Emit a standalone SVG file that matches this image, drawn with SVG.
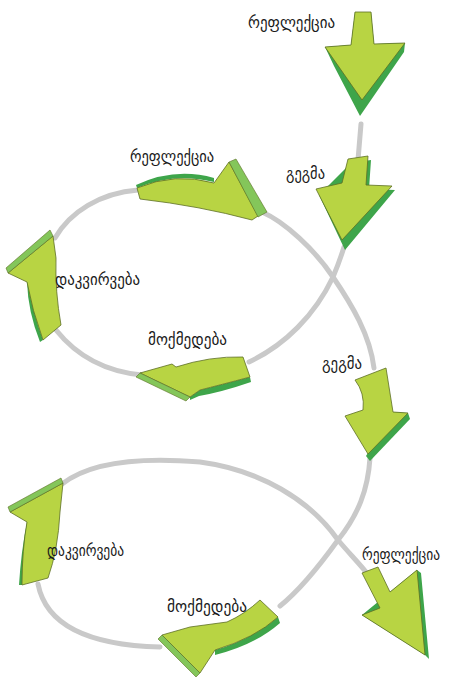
<svg xmlns="http://www.w3.org/2000/svg" width="452" height="679" viewBox="0 0 452 679">
<style>
.line{fill:none;stroke:#c9c9c9;stroke-width:5;stroke-linecap:round}
.face{fill:#b8d443;stroke:#5d6e25;stroke-width:0.8;stroke-linejoin:round}
.dark{fill:#3ea54a}
.mid{fill:#84c65a}
.lbl{font-family:"DejaVu Sans","Noto Sans Georgian",sans-serif;font-size:16px;fill:#1a1a1a}
</style>
<rect width="452" height="679" fill="#ffffff"/>
<g id="connectors">
<path class="line" d="M361,124 L358,160"/>
<path class="line" d="M344,247 C340,260 336,270 333,277 C315,315 285,345 249,362"/>
<path class="line" d="M142,375 C110,372 80,360 56,330"/>
<path class="line" d="M55,238 C70,212 100,193 138,190"/>
<path class="line" d="M262,212 C285,222 315,250 333,277 C352,305 370,335 374,368"/>
<path class="line" d="M370,458 C368,490 358,515 338,540 C320,565 300,590 280,606"/>
<path class="line" d="M38,584 C45,620 80,645 160,647"/>
<path class="line" d="M62,484 C90,462 140,457 200,462 C260,470 310,500 338,540 C348,552 358,562 366,572"/>
</g>
<g id="node-reflection-top">
<path class="dark" d="M325,47 L351,45 L355,12 L371,12 L374,44 L405,43 L404,52 L360,116 L334,66 Z"/>
<path class="face" d="M355,12 L371,12 L374,44 L405,43 L362,100 L325,47 L351,45 Z"/>
<text class="lbl" x="248" y="28" textLength="87" lengthAdjust="spacingAndGlyphs">რეფლექცია</text>
</g>
<g id="node-plan-1">
<path class="dark" d="M351,163 L371,160 L369,189 L395,190 L345,250 L319,195 Z"/>
<path class="face" d="M348,159 L368,156 L366,185 L392,186 L342,240 L316,189 L342,183 Z"/>
<text class="lbl" x="286" y="179" textLength="39" lengthAdjust="spacingAndGlyphs">გეგმა</text>
</g>
<g id="node-reflection-loop1">
<path class="dark" d="M136,185 Q175,167 214,178 L214,182 Q175,172 137,188 Z"/>
<path class="face" d="M137,188 Q175,172 214,183 L229,162 L258,216 L252,220 Q200,206 140,199 Z"/>
<path class="mid" stroke="#5d6e25" stroke-width="0.6" d="M229,162 L236,159 L267,212 L258,217 Z"/>
<text class="lbl" x="130" y="162" textLength="84" lengthAdjust="spacingAndGlyphs">რეფლექცია</text>
</g>
<g id="node-observe-loop1">
<path class="dark" d="M27,282 Q28,312 40,342 L43,340 Q32,310 31,282 Z"/>
<path class="face" d="M53,236 L56,258 Q55,292 61,325 L43,340 Q32,310 27,282 L8,273 Z"/>
<path class="mid" stroke="#5d6e25" stroke-width="0.6" d="M6,268 L50,230 L53,236 L8,273 Z"/>
<text class="lbl" x="55" y="285" textLength="85" lengthAdjust="spacingAndGlyphs">დაკვირვება</text>
</g>
<g id="node-action-loop1">
<path class="dark" d="M250,377 L251,382 Q222,392 199,396 L190,400 L190,397 L200,390 Q220,385 250,377 Z"/>
<path class="face" d="M140,373 L172,364 L176,367 Q210,356 243,357 L250,377 Q220,385 200,390 L190,397 Z"/>
<path class="mid" stroke="#5d6e25" stroke-width="0.6" d="M140,373 L190,397 L186,401 L136,377 Z"/>
<text class="lbl" x="148" y="345" textLength="79" lengthAdjust="spacingAndGlyphs">მოქმედება</text>
</g>
<g id="node-plan-2">
<path class="dark" d="M393,412 L408,413 L410,419 L370,461 L366,456 Z"/>
<path class="face" d="M355,380 L386,368 L393,412 L408,413 L368,454 L345,416 L363,410 Q365,393 355,380 Z"/>
<text class="lbl" x="322" y="369" textLength="40" lengthAdjust="spacingAndGlyphs">გეგმა</text>
</g>
<g id="node-observe-loop2">
<path class="dark" d="M27,522 Q21,552 19,585 L22,585 Q24,552 31,524 Z"/>
<path class="face" d="M63,483 L60,512 Q58,550 48,578 L22,585 Q22,550 27,522 L10,512 Z"/>
<path class="mid" stroke="#5d6e25" stroke-width="0.6" d="M8,507 L61,478 L63,483 L10,512 Z"/>
<text class="lbl" x="47" y="556" textLength="77" lengthAdjust="spacingAndGlyphs">დაკვირვება</text>
</g>
<g id="node-action-loop2">
<path class="dark" d="M278,617 L280,623 Q255,645 215,655 L215,650 Q250,640 278,617 Z"/>
<path class="face" d="M162,635 L190,627 L227,622 Q245,614 260,600 L278,617 Q255,638 215,650 L200,673 Z"/>
<path class="mid" stroke="#5d6e25" stroke-width="0.6" d="M162,635 L200,673 L196,677 L158,639 Z"/>
<text class="lbl" x="167" y="612" textLength="80" lengthAdjust="spacingAndGlyphs">მოქმედება</text>
</g>
<g id="node-reflection-final">
<path class="dark" d="M417,570 L421,573 L429,659 L425,655 L362,615 Z"/>
<path class="face" d="M362,573 L378,567 L390,592 L417,570 L425,655 L362,615 L380,608 Z"/>
<text class="lbl" x="362" y="560" font-size="14" textLength="78" lengthAdjust="spacingAndGlyphs">რეფლექცია</text>
</g>
</svg>
